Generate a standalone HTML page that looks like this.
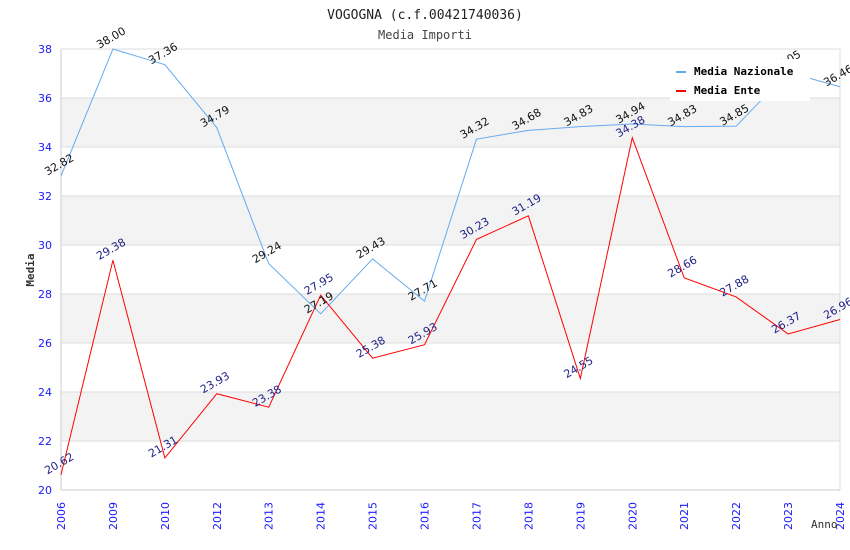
<!DOCTYPE html>
<html><head><meta charset="utf-8"><style>
body{margin:0;background:#fff}
svg{display:block;font-family:"DejaVu Sans","Liberation Sans",sans-serif}
</style></head><body>
<svg id="c" width="850" height="550">
<text x="425" y="19" text-anchor="middle" font-family="DejaVu Sans Mono,Liberation Mono,monospace" font-size="13" fill="#222">VOGOGNA (c.f.00421740036)</text>
<text x="425" y="39" text-anchor="middle" font-family="DejaVu Sans Mono,Liberation Mono,monospace" font-size="12" fill="#444">Media Importi</text>
<g id="bands"></g><g id="grid"></g><g id="axes"></g><g id="series"></g><g id="labels"></g>
<text x="34" y="270" transform="rotate(-90 34 270)" text-anchor="middle" font-family="DejaVu Sans Mono,Liberation Mono,monospace" font-weight="bold" font-size="11" fill="#333">Media</text>
<text x="811" y="528" font-family="DejaVu Sans Mono,Liberation Mono,monospace" font-size="11" fill="#333">Anno</text>
<g>
<rect x="670" y="59" width="140" height="42" fill="#fff"/>
<rect x="676" y="71" width="10" height="2" fill="#66aaee"/>
<text x="694" y="75" font-family="DejaVu Sans Mono,Liberation Mono,monospace" font-weight="bold" font-size="11" fill="#000">Media Nazionale</text>
<rect x="676" y="90" width="10" height="2" fill="#ff0000"/>
<text x="694" y="94" font-family="DejaVu Sans Mono,Liberation Mono,monospace" font-weight="bold" font-size="11" fill="#000">Media Ente</text>
</g>
</svg>
<script>
const categories=["2006","2009","2010","2012","2013","2014","2015","2016","2017","2018","2019","2020","2021","2022","2023","2024"];
const nazionale=[32.82,38.00,37.36,34.79,29.24,27.19,29.43,27.71,34.32,34.68,34.83,34.94,34.83,34.85,37.05,36.46];
const ente=[20.62,29.38,21.31,23.93,23.38,27.95,25.38,25.93,30.23,31.19,24.55,34.38,28.66,27.88,26.37,26.96];
const yTicks=[20,22,24,26,28,30,32,34,36,38];
const NS="http://www.w3.org/2000/svg";
const L=61,R=840,T=49,B=490,yMin=20,yMax=38;
const xs=i=>L+i*(R-L)/(categories.length-1);
const ys=v=>B-(v-yMin)/(yMax-yMin)*(B-T);
function mk(tag,attrs,parent){const e=document.createElementNS(NS,tag);for(const k in attrs)e.setAttribute(k,attrs[k]);document.getElementById(parent).appendChild(e);return e;}
for(let i=0;i<yTicks.length-1;i++){
  if(i%2===1){const b=mk('rect',{x:L,y:ys(yTicks[i+1]),width:R-L,height:ys(yTicks[i])-ys(yTicks[i+1]),fill:'#f3f3f3'},'bands');
  
  }
}
yTicks.forEach(t=>{
  const g=mk('line',{x1:L,x2:R,y1:ys(t),y2:ys(t),stroke:'#dddddd'},'grid');
  
  
  const tx=mk('text',{x:L-9,y:ys(t)+4,'text-anchor':'end','font-size':11,fill:'#1a1aff'},'axes');
  tx.textContent=t;
  
  
});
mk('line',{x1:L,x2:L,y1:T,y2:B,stroke:'#ccc'},'axes');
mk('line',{x1:R,x2:R,y1:T,y2:B,stroke:'#ddd'},'axes');
mk('line',{x1:L,x2:R,y1:B,y2:B,stroke:'#ccc'},'axes');
categories.forEach((c,i)=>{
  const x=xs(i)+4;
  const tx=mk('text',{x:x,y:530,transform:`rotate(-90 ${x} 530)`,'font-size':11,fill:'#1a1aff'},'axes');
  tx.textContent=c;
  
  
});
function series(vals,color,lblColor,name){
  const p=mk('polyline',{points:vals.map((v,i)=>xs(i)+','+ys(v)).join(' '),fill:'none',stroke:color,'stroke-width':1},'series');
  
  
  vals.forEach((v,i)=>{
    const x=xs(i),y=ys(v)-8;
    const t=mk('text',{x:x,y:y,'text-anchor':'middle',transform:`rotate(-30 ${x} ${y})`,'font-size':11,fill:lblColor},'labels');
    t.textContent=v.toFixed(2);
    
    
  });
}
series(nazionale,'#66aaee','#111','nazionale');
series(ente,'#ff0000','#222288','ente');
</script>
</body></html>
